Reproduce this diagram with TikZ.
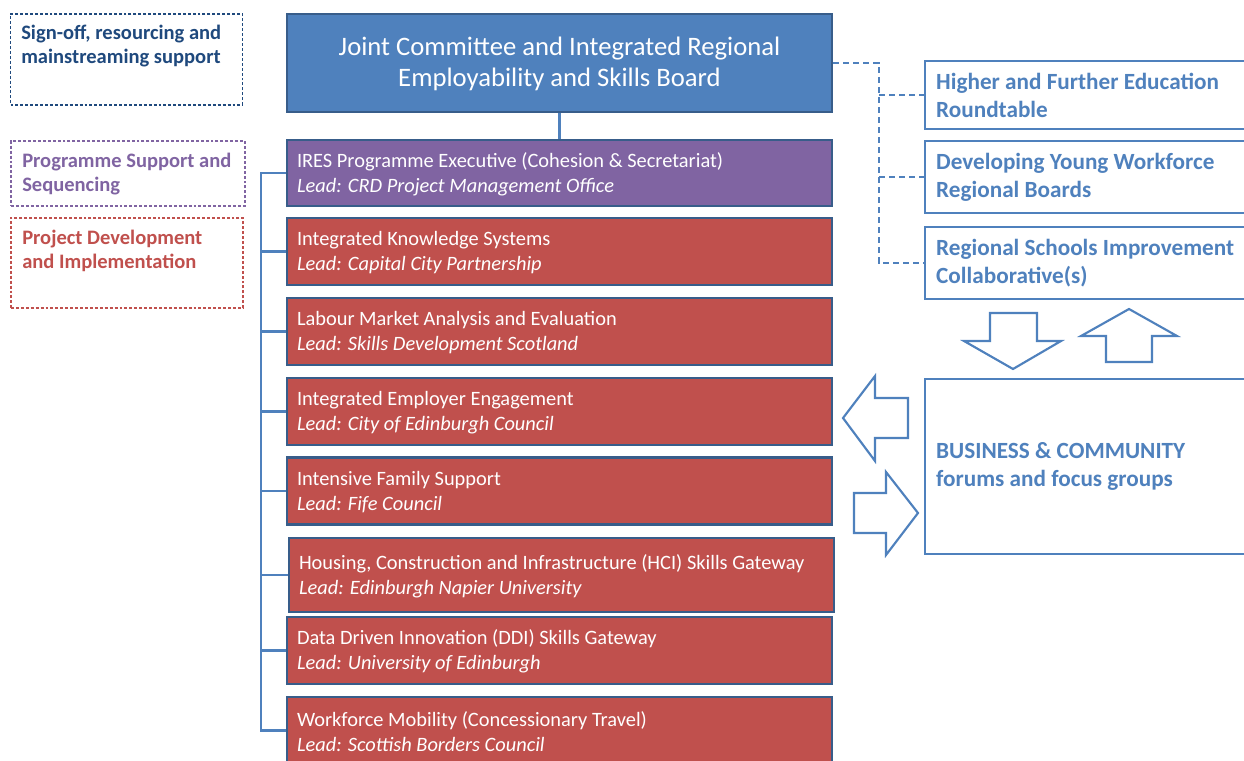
\documentclass[tikz,border=0pt]{standalone}
\usepackage{fontspec}
\setmainfont{Carlito}
\definecolor{bfill}{HTML}{4F81BD}
\definecolor{bdark}{HTML}{385D8A}
\definecolor{pfill}{HTML}{8064A2}
\definecolor{rfill}{HTML}{C0504D}
\definecolor{navy}{HTML}{1F497D}
\begin{document}
\begin{tikzpicture}[x=0.75pt,y=-0.75pt,
  boxbase/.style={draw=bdark,line width=1.9pt,inner sep=0pt,minimum width=408.75pt},
  topbox/.style={boxbase,fill=bfill,minimum height=73.5pt},
  pbox/.style={boxbase,fill=pfill,minimum height=49.5pt},
  rbox/.style={boxbase,fill=rfill,minimum height=50.25pt},
  wtext/.style={anchor=west,text=white,align=left,inner sep=0pt,font=\fontsize{15.3}{18.6}\selectfont},
  sidebox/.style={draw=bfill,fill=white,line width=1.6pt,inner sep=0pt,minimum width=243.75pt},
  stext/.style={anchor=west,text=bfill,align=left,inner sep=0pt,font=\bfseries\fontsize{17.4}{21}\selectfont},
  legbox/.style={dashed,dash pattern=on 2.2pt off 1.5pt,line width=0.8pt,inner sep=0pt,minimum width=174pt},
  legtext/.style={anchor=north west,align=left,inner sep=0pt,font=\bfseries\fontsize{15.4}{18.2}\selectfont},
  link/.style={draw=bfill,line width=1.6pt},
  dlink/.style={draw=bfill,line width=1.6pt,dash pattern=on 4.5pt off 3pt},
  blockarrow/.style={draw=bfill,line width=1.6pt,fill=white,line join=miter}
]
\clip (0,0) rectangle (1244,760);
\useasboundingbox (0,0) rectangle (1244,760);

% legend
\node[legbox,draw=navy,minimum height=68.25pt] (lg1) at (126.5,59.5) {};
\node[legtext,text=navy] (lg1t) at (21,24.5) {Sign-off, resourcing and\\mainstreaming support};
\node[legbox,draw=pfill,minimum height=48.75pt,minimum width=175.5pt] (lg2) at (128,173.5) {};
\node[legtext,text=pfill] (lg2t) at (22,153) {Programme Support and\\Sequencing};
\node[legbox,draw=rfill,minimum height=67.5pt] (lg3) at (127,263) {};
\node[legtext,text=rfill] (lg3t) at (22,230) {Project Development\\and Implementation};

% main column
\node[topbox] (top) at (559.5,63) {};
\node[anchor=center,text=white,align=center,inner sep=0pt,font=\fontsize{20}{23.5}\selectfont] (topt) at (559.5,64)
  {Joint Committee and Integrated Regional\\Employability and Skills Board};

\node[pbox] (p) at (559.5,173) {};
\node[wtext] (pt) at ([xshift=8.25pt,yshift=-0.75pt]p.west) {IRES Programme Executive (Cohesion \& Secretariat)\\\textit{Lead: CRD Project Management Office}};

\node[rbox] (r2) at (559.5,251.5) {};
\node[wtext] (r2t) at ([xshift=8.25pt,yshift=-0.75pt]r2.west) {Integrated Knowledge Systems\\\textit{Lead: Capital City Partnership}};
\node[rbox] (r3) at (559.5,331.5) {};
\node[wtext] (r3t) at ([xshift=8.25pt,yshift=-0.75pt]r3.west) {Labour Market Analysis and Evaluation\\\textit{Lead: Skills Development Scotland}};
\node[rbox] (r4) at (559.5,411.5) {};
\node[wtext] (r4t) at ([xshift=8.25pt,yshift=-0.75pt]r4.west) {Integrated Employer Engagement\\\textit{Lead: City of Edinburgh Council}};
\node[rbox] (r5) at (559.5,491) {};
\node[wtext] (r5t) at ([xshift=8.25pt,yshift=-0.75pt]r5.west) {Intensive Family Support\\\textit{Lead: Fife Council}};
\node[rbox,minimum height=55.5pt] (r6) at (561.5,575) {};
\node[wtext] (r6t) at ([xshift=8.25pt,yshift=-0.75pt]r6.west) {Housing, Construction and Infrastructure (HCI) Skills Gateway\\\textit{Lead: Edinburgh Napier University}};
\node[rbox] (r7) at (559.5,650.5) {};
\node[wtext] (r7t) at ([xshift=8.25pt,yshift=-0.75pt]r7.west) {Data Driven Innovation (DDI) Skills Gateway\\\textit{Lead: University of Edinburgh}};
\node[rbox] (r8) at (559.5,730.5) {};
\node[wtext] (r8t) at ([xshift=8.25pt,yshift=-0.75pt]r8.west) {Workforce Mobility (Concessionary Travel)\\\textit{Lead: Scottish Borders Council}};

% connectors main column
\draw[link] (top.south) -- (p.north);
\coordinate (br) at (261,173);
\draw[link] (p.west) -- (br |- p.west) -- (br |- r8.west) -- (r8.west);
\foreach \b in {r2,r3,r4,r5,r6,r7}{\draw[link] (br |- \b.west) -- (\b.west);}

% right side boxes
\node[sidebox,minimum height=51pt] (h1) at (1087.5,95) {};
\node[stext] (h1t) at ([xshift=9pt]h1.west) {Higher and Further Education\\Roundtable};
\node[sidebox,minimum height=54pt] (h2) at (1087.5,177) {};
\node[stext] (h2t) at ([xshift=9pt]h2.west) {Developing Young Workforce\\Regional Boards};
\node[sidebox,minimum height=54pt] (h3) at (1087.5,263) {};
\node[stext] (h3t) at ([xshift=9pt]h3.west) {Regional Schools Improvement\\Collaborative(s)};
\node[sidebox,minimum height=131.25pt] (biz) at (1087.5,466.5) {};
\node[stext] (bizt) at ([xshift=9pt]biz.west) {BUSINESS \& COMMUNITY\\forums and focus groups};

% dashed links
\coordinate (bus) at (879,63);
\draw[dlink] (top.east) -- (bus) |- (h3.west);
\draw[dlink] (bus |- h1.west) -- (h1.west);
\draw[dlink] (bus |- h2.west) -- (h2.west);

% block arrows
\draw[blockarrow] (990,313) -- (1037,313) -- (1037,341) -- (1061,341) -- (1013,369) -- (964,341) -- (990,341) -- cycle;
\draw[blockarrow] (1106,362) -- (1152,362) -- (1152,336) -- (1177,336) -- (1129,309) -- (1081,336) -- (1106,336) -- cycle;
\draw[blockarrow] (908,398) -- (908,438) -- (875,438) -- (875,461) -- (843,418) -- (875,376) -- (875,398) -- cycle;
\draw[blockarrow] (854,493) -- (886,493) -- (886,472) -- (918,513) -- (886,555) -- (886,533) -- (854,533) -- cycle;
\end{tikzpicture}
\end{document}
